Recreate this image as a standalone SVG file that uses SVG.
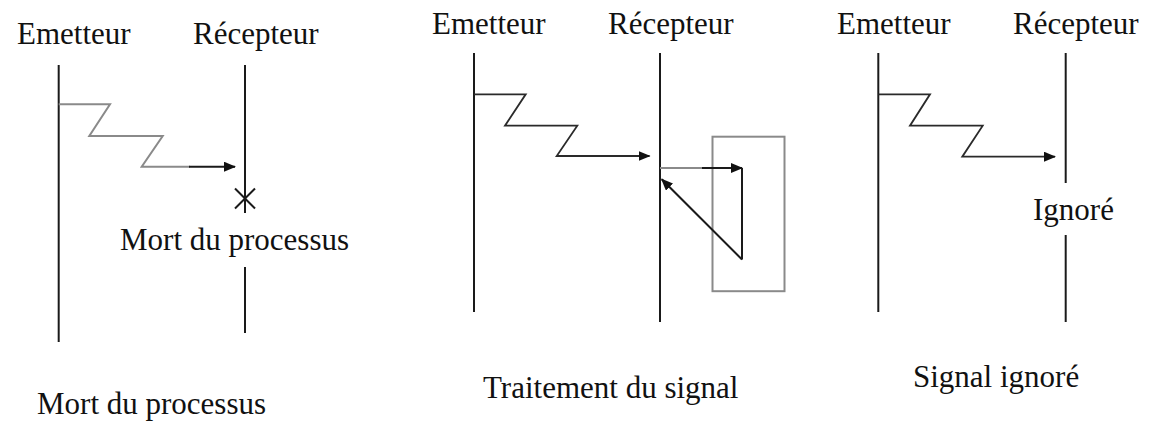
<svg xmlns="http://www.w3.org/2000/svg" width="1155" height="422" viewBox="0 0 1155 422">
<defs>
<style>
text{font-family:"Liberation Serif","Times New Roman",serif;font-size:31px;fill:#111}
.ln{stroke:#1a1a1a;stroke-width:2;fill:none}
.gr{stroke:#8a8a8a;stroke-width:2;fill:none}
.zz{stroke:#2a2a2a;stroke-width:1.8;fill:none}
</style>
<marker id="ah" markerUnits="userSpaceOnUse" markerWidth="12" markerHeight="10" refX="11" refY="5" orient="auto">
<path d="M0,0 L12,5 L0,10 Z" fill="#111"/>
</marker>
</defs>
<rect width="1155" height="422" fill="#fff"/>

<g id="panel1">
<g id="p1-emetteur"><text x="17" y="44">Emetteur</text><line class="ln" x1="58.7" y1="65" x2="58.7" y2="342"/></g>
<g id="p1-recepteur"><text x="193" y="44">Récepteur</text><line class="ln" x1="245" y1="65" x2="245" y2="213"/><line class="ln" x1="245" y1="267" x2="245" y2="333"/></g>
<g id="p1-mort"><line class="ln" x1="235" y1="188.5" x2="255" y2="208.5"/><line class="ln" x1="255" y1="188.5" x2="235" y2="208.5"/><text x="120" y="250">Mort du processus</text></g>
<g id="p1-caption"><text x="37" y="414">Mort du processus</text></g>
</g>

<g id="panel2">
<g id="p2-emetteur"><text x="432" y="34">Emetteur</text><line class="ln" x1="474" y1="53" x2="474" y2="312"/></g>
<g id="p2-recepteur"><text x="608" y="34">Récepteur</text><line class="ln" x1="660" y1="53" x2="660" y2="322"/></g>
<g id="p2-traitement"><rect class="gr" x="712.5" y="136.7" width="72" height="154.5"/></g>
<g id="p2-caption"><text x="483" y="398">Traitement du signal</text></g>
</g>

<g id="panel3">
<g id="p3-emetteur"><text x="837" y="34">Emetteur</text><line class="ln" x1="878.3" y1="53" x2="878.3" y2="312"/></g>
<g id="p3-recepteur"><text x="1013" y="34">Récepteur</text><line class="ln" x1="1065.7" y1="53" x2="1065.7" y2="183"/><line class="ln" x1="1065.7" y1="235" x2="1065.7" y2="322"/><text x="1033" y="220">Ignoré</text></g>
<g id="p3-caption"><text x="913" y="387">Signal ignoré</text></g>
</g>

<g id="connectors">
<polyline class="gr" stroke-width="1.8" points="58.7,104.3 110,104.3 89.3,136 162.7,136 141.7,166.7 190,166.7"/>
<line class="ln" x1="189" y1="166.7" x2="235" y2="166.7" marker-end="url(#ah)"/>

<polyline class="zz" points="474,94.3 525.7,94.3 505,125.7 577.3,125.7 556.7,156 649.5,156" marker-end="url(#ah)"/>
<line class="gr" x1="660" y1="168" x2="703" y2="168"/>
<line class="ln" x1="702" y1="168" x2="742" y2="168" marker-end="url(#ah)"/>
<line class="ln" x1="742" y1="168" x2="742" y2="259.5"/>
<line class="ln" x1="742" y1="259.5" x2="661.7" y2="179.3" marker-end="url(#ah)"/>

<polyline class="zz" points="878.3,94.3 930,94.3 910,125.7 982.7,125.7 962.3,156.7 1055,156.7" marker-end="url(#ah)"/>
</g>
</svg>
